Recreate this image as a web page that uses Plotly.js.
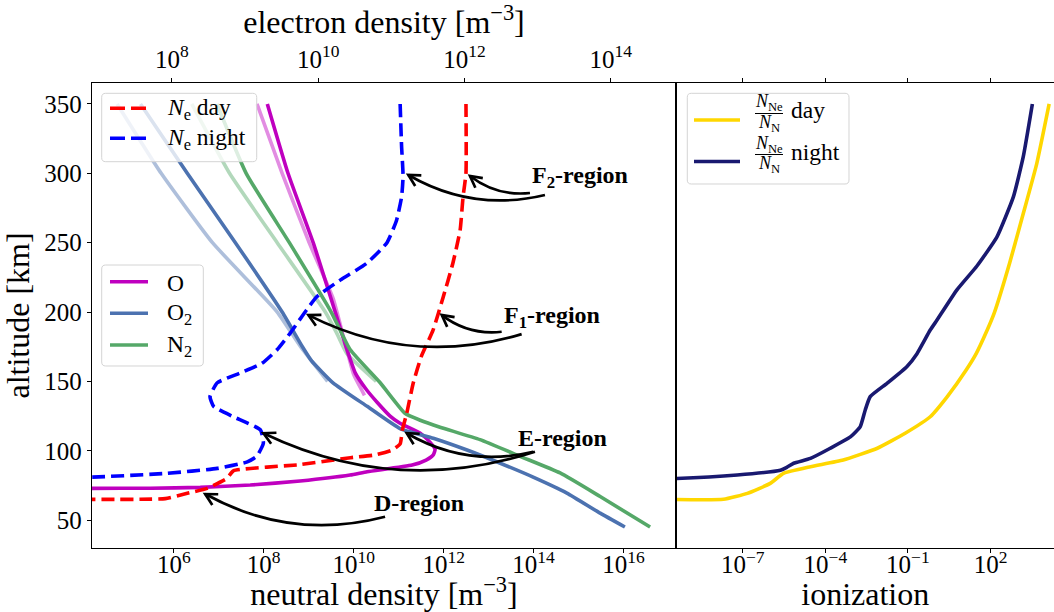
<!DOCTYPE html>
<html><head><meta charset="utf-8">
<script src="https://cdn.plot.ly/plotly-3.0.1.min.js"></script>
<style>html,body{margin:0;padding:0;background:#fff}#chart{width:1054px;height:612px}</style>
</head><body><div id="chart"></div>
<script>
// ---------- DATA (log10 of densities / ratios) ----------
// Neutral densities [m^-3]  (bottom axis)
const altO      = [350, 300, 250, 200, 175, 155.8, 143.8, 135, 125, 119.8, 112.6, 106, 101, 97, 93.3, 89.7, 84.9, 82.5, 78.2, 75.3, 73.6, 73.0, 72.9, 72.5];
const logO      = [8.08, 8.54, 9.10, 9.59, 9.83, 10.04, 10.29, 10.52, 10.81, 11.03, 11.48, 11.70, 11.81, 11.77, 11.61, 11.30, 10.30, 9.92, 8.81, 7.70, 6.59, 5.48, 4.19, 2.0];
const altOFaded = [350, 300, 250, 210, 180, 155, 140];
const logOFaded = [7.85, 8.41, 9.01, 9.54, 9.79, 10.00, 10.24];

const altO2      = [350, 300, 250, 200, 175, 165, 149, 132, 116, 109, 100.5, 91, 81, 69.5, 55, 45];
const logO2      = [5.26, 6.30, 7.37, 8.41, 8.86, 9.06, 9.54, 10.30, 11.03, 11.77, 12.52, 13.26, 13.99, 14.74, 15.48, 16.03];
const altO2Faded = [350, 300, 250, 200, 175, 150];
const logO2Faded = [4.74, 5.72, 6.86, 8.30, 8.82, 9.42];

const altN2      = [350, 300, 250, 200, 173, 149, 127, 122, 117, 108, 96, 84, 67, 45];
const logN2      = [6.96, 7.61, 8.57, 9.50, 9.92, 10.59, 11.14, 11.48, 11.92, 12.81, 13.70, 14.59, 15.48, 16.59];
const altN2Faded = [350, 300, 250, 200, 185, 170, 150];
const logN2Faded = [6.40, 7.24, 8.30, 9.37, 9.62, 9.85, 10.50];

// Electron densities [m^-3]  (top axis)
const altNeDay = [350, 300, 283, 259, 235, 211, 187, 168, 149, 127, 115, 105, 100.5, 97, 95, 90, 85.5, 80, 72.9, 69.3, 65.5, 65, 65];
const logNeDay = [12.02, 12.02, 11.98, 11.94, 11.84, 11.71, 11.57, 11.41, 11.30, 11.21, 11.15, 11.12, 11.01, 10.78, 10.44, 9.75, 8.84, 8.75, 8.48, 8.21, 7.91, 7.57, 6.0];
const altNeNight = [350, 319, 298, 283, 266, 250, 235, 223, 211, 201.5, 185, 173, 163, 156, 149, 139, 132, 124.5, 115, 105.5, 96, 92, 87.3, 83.7, 81, 80.8];
const logNeNight = [11.12, 11.14, 11.16, 11.14, 11.07, 10.94, 10.66, 10.30, 9.98, 9.84, 9.62, 9.44, 9.23, 8.93, 8.62, 8.52, 8.57, 8.84, 9.21, 9.25, 9.16, 9.03, 8.62, 7.93, 6.91, 6.0];

// Ionization ratio N_Ne / N_N  (right panel)
const altIonDay = [350, 307, 271, 235, 199, 187, 170, 158, 139, 124.5, 112.6, 101.8, 93.3, 88.5, 83.7, 76.5, 69.3, 65, 65];
const logIonDay = [4.13, 3.68, 3.19, 2.69, 2.13, 1.88, 1.48, 1.11, 0.43, -0.19, -1.10, -2.11, -3.35, -4.54, -5.52, -6.00, -6.83, -7.70, -10.0];
const altIonNight = [350, 312, 283, 254, 233, 216, 194, 187, 170, 160.6, 148.6, 139, 129.4, 117.4, 110, 101.8, 94.5, 91, 88, 86, 82.5, 80, 79.8];
const logIonNight = [3.52, 3.19, 2.83, 2.23, 1.50, 0.78, 0.05, -0.19, -0.67, -1.04, -1.76, -2.37, -2.55, -2.73, -3.09, -3.82, -4.54, -5.15, -5.40, -5.63, -7.20, -9.40, -10.0];

// Tick labels
const altTicks = [50, 100, 150, 200, 250, 300, 350];
const neutralTickExp = [6, 8, 10, 12, 14, 16];
const electronTickExp = [8, 10, 12, 14];
const ionTickExp = [-7, -4, -1, 2];

// Text labels
const regionLabels = ['<b>F<sub>2</sub>-region</b>', '<b>F<sub>1</sub>-region</b>', '<b>E-region</b>', '<b>D-region</b>'];
const neLegendLabels = ['<i>N</i><sub>e</sub> day', '<i>N</i><sub>e</sub> night'];
const speciesLabels = ['O', 'O<sub>2</sub>', 'N<sub>2</sub>'];
const ionLegendLabels = ['day', 'night'];

// ---------- STYLE / GEOMETRY ----------
const FONT = '"Liberation Serif", "DejaVu Serif", serif';
const MARGIN = {l: 92, r: 0, t: 83, b: 64};
const W = 1054, H = 612;
const PW = W - MARGIN.l - MARGIN.r, PH = H - MARGIN.t - MARGIN.b;
const DOM_L = [0, 0.6071], DOM_R = [0.6076, 1];
const Y_RANGE = [29.9, 365.1];
const X_BOT_RANGE = [4.182, 17.167];
const X_TOP_RANGE = [6.907, 14.892];
const X_ION_RANGE = [-9.405, 4.306];

const pw = a => a.map(v => Math.pow(10, v));
const supTxt = e => '10<sup>' + (e < 0 ? '\u2212' + (-e) : e) + '</sup>';

const C = {O: '#bf00bf', O2: '#4c72b0', N2: '#55a868', day: '#ff0000', night: '#0000ff', iday: '#ffd700', inight: '#191970'};
const LW = 3.6, FADE = 0.45;
const DASH = '13px,6px';
const SM = 0.45;

const base = {mode: 'lines', showlegend: false, hoverinfo: 'skip'};
const traces = [
  Object.assign({}, base, {x: pw(logOFaded), y: altOFaded, name: 'O (faded)', line: {color: C.O, width: LW, shape: 'spline', smoothing: SM}, opacity: FADE, xaxis: 'x', yaxis: 'y'}),
  Object.assign({}, base, {x: pw(logO2Faded), y: altO2Faded, name: 'O2 (faded)', line: {color: C.O2, width: LW, shape: 'spline', smoothing: SM}, opacity: FADE, xaxis: 'x', yaxis: 'y'}),
  Object.assign({}, base, {x: pw(logN2Faded), y: altN2Faded, name: 'N2 (faded)', line: {color: C.N2, width: LW, shape: 'spline', smoothing: SM}, opacity: FADE, xaxis: 'x', yaxis: 'y'}),
  Object.assign({}, base, {x: pw(logO), y: altO, name: 'O', line: {color: C.O, width: LW, shape: 'spline', smoothing: SM}, xaxis: 'x', yaxis: 'y'}),
  Object.assign({}, base, {x: pw(logO2), y: altO2, name: 'O2', line: {color: C.O2, width: LW, shape: 'spline', smoothing: SM}, xaxis: 'x', yaxis: 'y'}),
  Object.assign({}, base, {x: pw(logN2), y: altN2, name: 'N2', line: {color: C.N2, width: LW, shape: 'spline', smoothing: SM}, xaxis: 'x', yaxis: 'y'}),
  Object.assign({}, base, {x: pw(logNeDay), y: altNeDay, name: 'Ne day', line: {color: C.day, width: LW, dash: DASH, shape: 'spline', smoothing: SM}, xaxis: 'x3', yaxis: 'y'}),
  Object.assign({}, base, {x: pw(logNeNight), y: altNeNight, name: 'Ne night', line: {color: C.night, width: LW, dash: DASH, shape: 'spline', smoothing: SM}, xaxis: 'x3', yaxis: 'y'}),
  Object.assign({}, base, {x: pw(logIonDay), y: altIonDay, name: 'ionization day', line: {color: C.iday, width: LW, shape: 'spline', smoothing: SM}, xaxis: 'x2', yaxis: 'y2'}),
  Object.assign({}, base, {x: pw(logIonNight), y: altIonNight, name: 'ionization night', line: {color: C.inight, width: LW, shape: 'spline', smoothing: SM}, xaxis: 'x2', yaxis: 'y2'})
];

// ---------- helpers ----------
function topToPx(L, alt) {
  const fx = DOM_L[0] + (L - X_TOP_RANGE[0]) / (X_TOP_RANGE[1] - X_TOP_RANGE[0]) * (DOM_L[1] - DOM_L[0]);
  const fy = (alt - Y_RANGE[0]) / (Y_RANGE[1] - Y_RANGE[0]);
  return [MARGIN.l + fx * PW, MARGIN.t + (1 - fy) * PH];
}
const toPaper = p => [(p[0] - MARGIN.l) / PW, 1 - (p[1] - MARGIN.t) / PH];
const f5 = v => v.toFixed(5);
const P = (x, y) => { const p = toPaper([x, y]); return f5(p[0]) + ',' + f5(p[1]); };

const shapes = [];
const annotations = [];

// ---------- curved arrows (arc3-like) ----------
// [startLog, startAlt, endLog, endAlt] in electron-density (top axis) log units and km
const arrowSpecs = [
  [12.895, 285.8, 12.075, 298.1],
  [13.100, 284.4, 11.232, 298.8],
  [12.508, 185.8, 11.689, 197.8],
  [12.781, 184.1, 9.866, 197.8],
  [12.940, 99.3, 11.210, 112.6],
  [12.963, 99.3, 9.251, 112.6],
  [10.914, 52.4, 8.455, 68.8]
];
const labelPos = [[13.578, 297.6], [13.191, 196.6], [13.346, 109.2], [11.378, 62.3]];
const RAD = -0.2, HEADLEN = 13, HEADANG = 28 * Math.PI / 180;
arrowSpecs.forEach(s => {
  const S = topToPx(s[0], s[1]), E = topToPx(s[2], s[3]);
  const Mx = (S[0] + E[0]) / 2, My = (S[1] + E[1]) / 2;
  const dx = E[0] - S[0], dy = E[1] - S[1];
  const Cp = [Mx + RAD * (-dy), My + RAD * dx];
  shapes.push({type: 'path', xref: 'paper', yref: 'paper', layer: 'above',
    path: `M${P(S[0], S[1])} Q${P(Cp[0], Cp[1])} ${P(E[0], E[1])}`,
    line: {color: 'black', width: 2.7}});
  let ux = E[0] - Cp[0], uy = E[1] - Cp[1];
  const n = Math.hypot(ux, uy); ux /= n; uy /= n;
  const arm = ang => {
    const rx = ux * Math.cos(ang) - uy * Math.sin(ang), ry = ux * Math.sin(ang) + uy * Math.cos(ang);
    return [E[0] - HEADLEN * rx, E[1] - HEADLEN * ry];
  };
  const h1 = arm(HEADANG), h2 = arm(-HEADANG);
  shapes.push({type: 'path', xref: 'paper', yref: 'paper', layer: 'above',
    path: `M${P(h1[0], h1[1])} L${P(E[0], E[1])} L${P(h2[0], h2[1])}`,
    line: {color: 'black', width: 2.7}});
});
regionLabels.forEach((t, i) => annotations.push({
  text: t, x: labelPos[i][0], y: labelPos[i][1], xref: 'x3', yref: 'y', showarrow: false,
  font: {family: FONT, size: 24, color: 'black'}, xanchor: 'center', yanchor: 'middle'
}));

// ---------- legends (drawn as boxes, sample lines and text) ----------
function roundBox(x0, y0, x1, y1, r) {
  return `M${P(x0 + r, y0)} L${P(x1 - r, y0)} Q${P(x1, y0)} ${P(x1, y0 + r)} L${P(x1, y1 - r)} Q${P(x1, y1)} ${P(x1 - r, y1)} ` +
         `L${P(x0 + r, y1)} Q${P(x0, y1)} ${P(x0, y1 - r)} L${P(x0, y0 + r)} Q${P(x0, y0)} ${P(x0 + r, y0)} Z`;
}
function legendBox(x0, y0, x1, y1) {
  shapes.push({type: 'path', xref: 'paper', yref: 'paper', layer: 'above', path: roundBox(x0, y0, x1, y1, 4),
    fillcolor: 'rgba(255,255,255,0.8)', line: {color: '#d4d4d4', width: 1}});
}
function sampleLine(x0, x1, y, color, dash) {
  const a = toPaper([x0, y]), b = toPaper([x1, y]);
  shapes.push({type: 'line', xref: 'paper', yref: 'paper', layer: 'above', x0: a[0], y0: a[1], x1: b[0], y1: b[1],
    line: {color: color, width: LW, dash: dash || 'solid'}});
}
function legendText(txt, x, y, size, anchor) {
  const p = toPaper([x, y]);
  annotations.push({text: txt, x: p[0], y: p[1], xref: 'paper', yref: 'paper', showarrow: false,
    xanchor: anchor || 'left', yanchor: 'middle', font: {family: FONT, size: size, color: 'black'}});
}

// Legend 1: electron density
legendBox(101.7, 93.3, 256.7, 161.7);
[[C.day, 108.3], [C.night, 138.3]].forEach((e, i) => {
  sampleLine(110, 148, e[1], e[0], '15px,6px');
  legendText(neLegendLabels[i], 165, e[1] + 1, 23.5);
});
// Legend 2: neutral species
legendBox(101.7, 265, 203.3, 366);
[[C.O, 281.7], [C.O2, 313.3], [C.N2, 345]].forEach((e, i) => {
  sampleLine(110, 148, e[1], e[0]);
  legendText(speciesLabels[i], 165, e[1] + 1, 23.5);
});
// Legend 3: ionization
legendBox(687.3, 93.3, 849, 184);
[[C.iday, 120, 103, 113.5, 123.5, 110], [C.inight, 161.5, 144, 154.5, 165, 152]].forEach((e, i) => {
  sampleLine(694, 740, e[1], e[0]);
  const b0 = toPaper([755, e[3]]), b1 = toPaper([783, e[3]]);
  shapes.push({type: 'line', xref: 'paper', yref: 'paper', layer: 'above', x0: b0[0], y0: b0[1], x1: b1[0], y1: b1[1], line: {color: 'black', width: 1}});
  legendText('<i>N</i><sub>Ne</sub>', 769, e[2], 18, 'center');
  legendText('<i>N</i><sub>N</sub>', 769, e[4], 18, 'center');
  legendText(ionLegendLabels[i], 789, e[5], 23.5);
});

// ---------- axes ----------
const axCommon = {showgrid: false, zeroline: false, showline: true, linecolor: 'black', linewidth: 1.3,
  ticks: 'outside', ticklen: 4, tickwidth: 1, tickcolor: 'black', automargin: false,
  tickfont: {family: FONT, size: 25, color: 'black'}};
const TITLE_FONT = {family: FONT, size: 32, color: 'black'};
const BOTTOM_LABEL_SHIFT = -10;

const layout = {
  width: W, height: H, margin: MARGIN, paper_bgcolor: 'white', plot_bgcolor: 'white',
  font: {family: FONT, color: 'black'}, showlegend: false,
  xaxis: Object.assign({}, axCommon, {type: 'log', domain: DOM_L, range: X_BOT_RANGE, anchor: 'y',
    tickvals: pw(neutralTickExp), ticktext: neutralTickExp.map(supTxt), ticklabelstandoff: BOTTOM_LABEL_SHIFT,
    title: {text: 'neutral density [m<sup>\u22123</sup>]', font: TITLE_FONT, standoff: 4}}),
  xaxis3: Object.assign({}, axCommon, {type: 'log', overlaying: 'x', side: 'top', range: X_TOP_RANGE, anchor: 'y',
    tickvals: pw(electronTickExp), ticktext: electronTickExp.map(supTxt),
    title: {text: 'electron density [m<sup>\u22123</sup>]', font: TITLE_FONT, standoff: 0}}),
  yaxis: Object.assign({}, axCommon, {range: Y_RANGE, domain: [0, 1], anchor: 'x', mirror: true,
    tickvals: altTicks, title: {text: 'altitude [km]', font: TITLE_FONT, standoff: 6}}),
  xaxis2: Object.assign({}, axCommon, {type: 'log', domain: DOM_R, range: X_ION_RANGE, anchor: 'y2', mirror: 'ticks',
    tickvals: pw(ionTickExp), ticktext: ionTickExp.map(supTxt), ticklabelstandoff: BOTTOM_LABEL_SHIFT,
    title: {text: 'ionization', font: TITLE_FONT, standoff: 4}}),
  yaxis2: Object.assign({}, axCommon, {range: Y_RANGE, domain: [0, 1], anchor: 'x2', matches: 'y',
    showticklabels: false, ticks: ''}),
  shapes: shapes, annotations: annotations
};

Plotly.newPlot('chart', traces, layout, {displayModeBar: false, staticPlot: true});
</script></body></html>
